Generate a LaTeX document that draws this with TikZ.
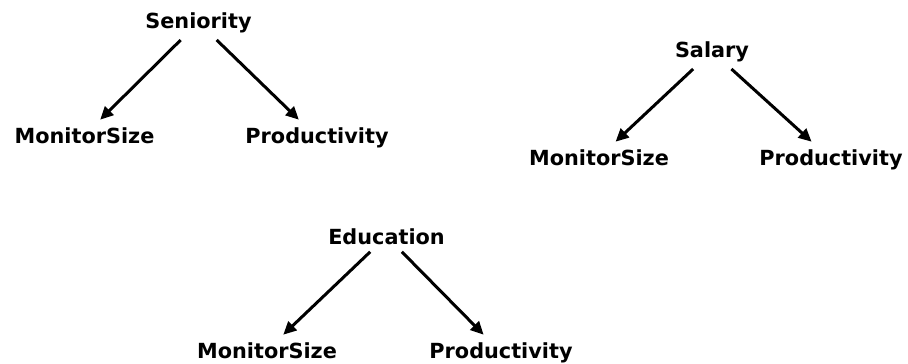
\documentclass[tikz,border=0pt]{standalone}
\usepackage{fontspec}
\setmainfont{DejaVu Sans}
\usetikzlibrary{arrows.meta}
\begin{document}
\begin{tikzpicture}[x=1pt,y=-1pt,
  var/.style={font=\bfseries\fontsize{20.8}{25}\selectfont, anchor=base,
              inner sep=4pt, outer sep=3.5pt},
  edge/.style={line width=3pt, -{Triangle[length=13pt,width=12pt]}}]
  \useasboundingbox (0,0) rectangle (908,364);
  % Seniority as common cause
  \node[var] (sen) at (198.5,28) {Seniority};
  \node[var] (ms1) at (84.5,143) {MonitorSize};
  \node[var] (pr1) at (317,143) {Productivity};
  \draw[edge] (sen) -- (ms1);
  \draw[edge] (sen) -- (pr1);
  % Salary as common cause
  \node[var] (sal) at (712,57) {Salary};
  \node[var] (ms2) at (599,165) {MonitorSize};
  \node[var] (pr2) at (831,165) {Productivity};
  \draw[edge] (sal) -- (ms2);
  \draw[edge] (sal) -- (pr2);
  % Education as common cause
  \node[var] (edu) at (386.5,244) {Education};
  \node[var] (ms3) at (267,358) {MonitorSize};
  \node[var] (pr3) at (501,358) {Productivity};
  \draw[edge] (edu) -- (ms3);
  \draw[edge] (edu) -- (pr3);
\end{tikzpicture}
\end{document}
